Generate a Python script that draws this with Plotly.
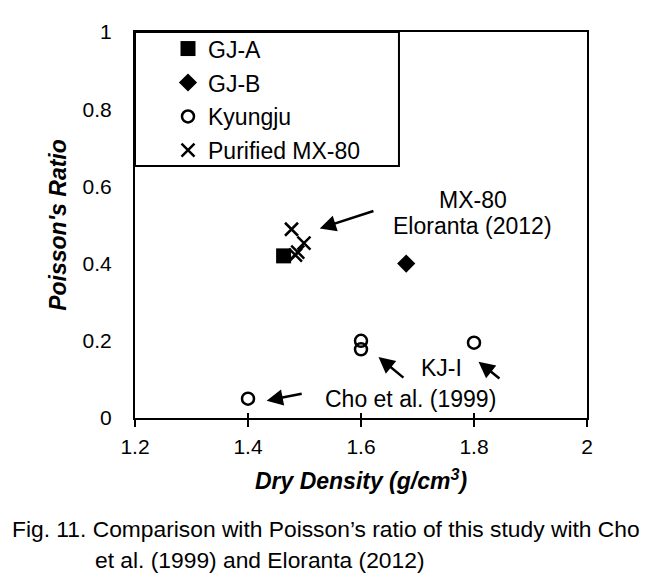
import plotly.graph_objects as go

# ---- data ----
gja_x = [1.463]
gja_y = [0.42]
gjb_x = [1.68]
gjb_y = [0.40]
kyungju_x = [1.40, 1.60, 1.60, 1.80]
kyungju_y = [0.05, 0.20, 0.178, 0.195]
mx80_x = [1.477, 1.499, 1.488, 1.484]
mx80_y = [0.489, 0.453, 0.430, 0.422]

x_ticks = [1.2, 1.4, 1.6, 1.8, 2.0]
x_tick_labels = ["1.2", "1.4", "1.6", "1.8", "2"]
y_ticks = [0, 0.2, 0.4, 0.6, 0.8, 1.0]
y_tick_labels = ["0", "0.2", "0.4", "0.6", "0.8", "1"]

FONT = "Liberation Sans, Arial, sans-serif"
CAP = "Liberation Sans Narrow, Arial Narrow, Liberation Sans, sans-serif"

fig = go.Figure()
fig.add_trace(go.Scatter(x=gja_x, y=gja_y, mode="markers", name="GJ-A", legend="legend",
                         marker=dict(symbol="square", size=15, color="black")))
fig.add_trace(go.Scatter(x=gjb_x, y=gjb_y, mode="markers", name="GJ-B", legend="legend2",
                         marker=dict(symbol="diamond", size=14, color="black")))
fig.add_trace(go.Scatter(x=kyungju_x, y=kyungju_y, mode="markers", name="Kyungju", legend="legend3",
                         marker=dict(symbol="circle-open", size=12, color="black",
                                     line=dict(width=2.5, color="black"))))
fig.add_trace(go.Scatter(x=mx80_x, y=mx80_y, mode="markers", name="Purified MX-80", legend="legend4",
                         marker=dict(symbol="x-thin", size=13, color="black",
                                     line=dict(width=2.5, color="black"))))


def leg(y):
    return dict(x=0.073, y=y, xanchor="left", yanchor="middle", bgcolor="rgba(0,0,0,0)",
                borderwidth=0, font=dict(family=FONT, size=23, color="black"))


fig.update_layout(
    width=645, height=573,
    margin=dict(l=127, r=66, t=12, b=163),
    paper_bgcolor="white", plot_bgcolor="white",
    font=dict(family=FONT, size=21, color="black"),
    showlegend=True,
    legend=leg(0.957), legend2=leg(0.869), legend3=leg(0.781), legend4=leg(0.694),
    xaxis=dict(range=[1.2, 2.0], tickvals=x_ticks, ticktext=x_tick_labels,
               showline=True, linewidth=2, linecolor="black", mirror=True,
               ticks="outside", ticklen=7, tickwidth=2, tickcolor="black",
               showgrid=False, zeroline=False, ticklabelstandoff=2,
               tickfont=dict(family=FONT, size=21),
               title=dict(text="<b><i>Dry Density (g/cm<sup>3</sup>)</i></b>",
                          font=dict(family=FONT, size=23), standoff=16)),
    xaxis2=dict(range=[1.2, 2.0], overlaying="x", side="bottom", matches="x",
                tickvals=x_ticks, showticklabels=False, ticks="inside", ticklen=5,
                tickwidth=2, tickcolor="black", showgrid=False, zeroline=False, showline=False),
    yaxis=dict(range=[0, 1.0], tickvals=y_ticks, ticktext=y_tick_labels,
               showline=True, linewidth=2, linecolor="black", mirror=True,
               ticks="", showgrid=False, zeroline=False, ticklabelstandoff=17,
               tickfont=dict(family=FONT, size=21),
               title=dict(text="<b><i>Poisson's Ratio</i></b>",
                          font=dict(family=FONT, size=23), standoff=10)),
)

# invisible trace to activate the crossing tick overlay axis
fig.add_trace(go.Scatter(x=[1.2], y=[0], xaxis="x2", mode="markers",
                         marker=dict(opacity=0), showlegend=False, hoverinfo="skip"))

# legend box
fig.add_shape(type="rect", xref="paper", yref="paper", x0=0, x1=0.584, y0=0.653, y1=1.0,
              line=dict(color="black", width=2), fillcolor="rgba(0,0,0,0)")

# arrows
arrow = dict(showarrow=True, arrowhead=2, arrowsize=1.3, arrowwidth=2.5, arrowcolor="black",
             axref="x", ayref="y", xref="x", yref="y", text=" ")
fig.add_annotation(x=1.527, y=0.491, ax=1.630, ay=0.540, **arrow)
fig.add_annotation(x=1.631, y=0.158, ax=1.683, ay=0.095, **arrow)
fig.add_annotation(x=1.808, y=0.146, ax=1.853, ay=0.093, **arrow)
fig.add_annotation(x=1.433, y=0.045, ax=1.503, ay=0.065, **arrow)

# labels
lab = dict(xref="x", yref="y", showarrow=False, font=dict(family=FONT, size=23))
fig.add_annotation(x=1.798, y=0.565, text="MX-80", **lab)
fig.add_annotation(x=1.798, y=0.497, text="Eloranta (2012)", **lab)
fig.add_annotation(x=1.743, y=0.129, text="KJ-I", **lab)
fig.add_annotation(x=1.687, y=0.050, text="Cho et al. (1999)", **lab)

# caption
cap = dict(xref="paper", yref="paper", showarrow=False, xanchor="left", yanchor="middle",
           font=dict(family=CAP, size=22.8, color="black"))
fig.add_annotation(x=-0.277, y=-0.287,
                   text="Fig. 11. Comparison with Poisson’s ratio of this study with Cho", **cap)
fig.add_annotation(x=-0.093, y=-0.368,
                   text="et al. (1999) and Eloranta (2012)", **cap)

fig.write_html("out.html")
